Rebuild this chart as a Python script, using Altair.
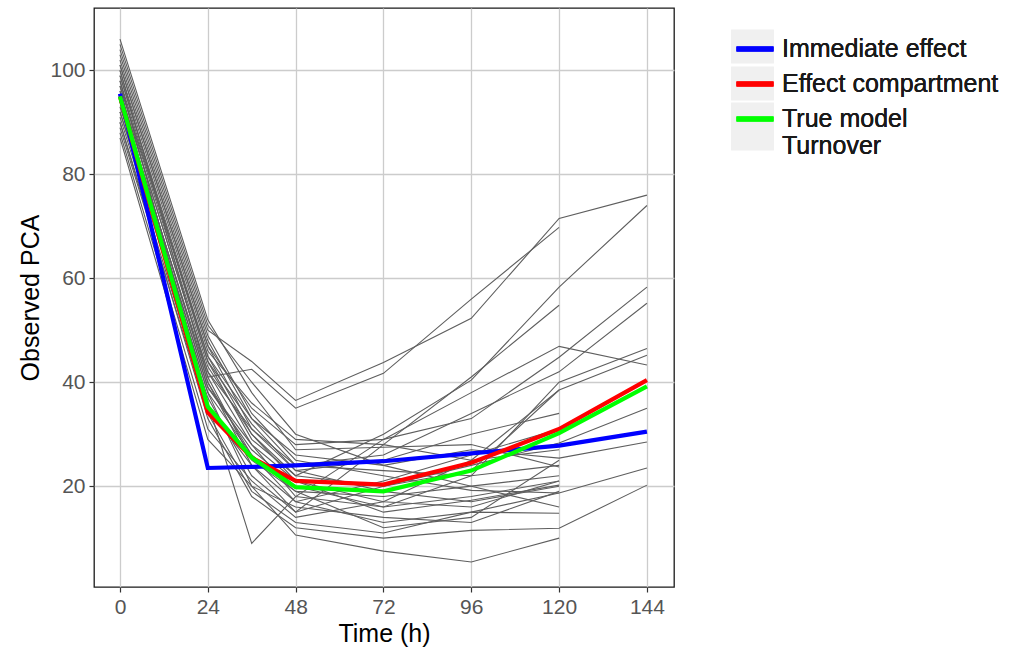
import altair as alt
import pandas as pd

times = [0, 24, 36, 48, 72, 96, 120, 144]

subjects = [
    [104, 50, 44, 36.5, 43.8, 52.3, 71.5, 76],
    [100, 41, 42.5, 35, 41.7, 56, 69.8, None],
    [97, 45, 30, 22, 30, 40.4, 58.3, 74],
    [98, 36, 9, 18, 29, 38, 46.9, 43.3],
    [92, 38, 20, 10.6, 7.5, 5.4, 10, None],
    [90, 33, 18, 12, 10, 11.5, 11.9, 20.2],
    [95, 40, 24, 17, 13, 15, 18.7, 23.5],
    [102, 48, 33, 26, 24, 27, 25.4, 28.5],
    [99, 44, 29, 22, 20, 24, 28.3, 35],
    [101, 47, 35, 28, 29, 33, 44.8, 58.3],
    [96, 42, 31, 24, 26, 34, 42, 55.2],
    [94, 39, 27, 20, 16, 22, 40, 46.5],
    [91, 37, 22, 15, 28, 41, 54.8, None],
    [88, 31, 21, 14, 17, 25, 38.5, 45.2],
    [106, 52, 38, 27, 27.5, 28, 23.7, None],
    [97, 43, 30, 21, 15, 17.3, 20.2, None],
    [89, 34, 19, 13, 11, 15, 14.8, None],
    [103, 49, 34, 25, 22, 19.2, 18.7, None],
    [95, 40, 26, 19, 18, 20, 22, None],
    [100, 46, 36, 29, 28, 25, 27, None],
    [87, 29, 20, 16, 14, 13, 19, None],
    [98, 44, 32, 23, 25, 30, 34, None],
    [92, 38, 26, 17, 21, 26, 31, None],
    [105, 51, 40, 30, 24, 20, 16, None],
    [94, 41, 25, 19, 12, 14, 25, None],
    [96, 42, 28, 21, 17, 16, 21, None],
    [90, 35, 24, 15, 20, 23, 38.5, None],
    [99, 45, 33, 24, 23, 22, 24, None],
    [93, 39, 28, 18, 16, 18, 21, None],
    [101, 47, 31, 23, 19, 17, 20, None],
]

immediate_effect = [95.5, 23.5, 23.7, 24.0, 24.8, 26.3, 27.8, 30.5]
effect_compartment = [95, 34.2, 25.5, 21, 20.3, 24.5, 31, 40.4]
true_turnover = [95, 35.3, 25.5, 19.8, 19, 23, 30.2, 39.2]

model_names = ["Immediate effect", "Effect compartment", "True model Turnover"]
model_colors = ["#0000ff", "#ff0000", "#00ff00"]

rows = []
for i, vals in enumerate(subjects):
    for t, v in zip(times, vals):
        if v is not None:
            rows.append({"subject": f"S{i+1}", "time": t, "value": v})
ind_df = pd.DataFrame(rows)

mrows = []
for name, vals in zip(model_names, [immediate_effect, effect_compartment, true_turnover]):
    for t, v in zip(times, vals):
        mrows.append({"model": name, "time": t, "value": v})
model_df = pd.DataFrame(mrows)

FONT = "Liberation Sans"
LABEL_EXPR = ("datum.label == 'True model Turnover' ? "
              "['True model', '\u2009\u2009Turnover'] : datum.label")
BLANK_EXPR = ("datum.label == 'True model Turnover' ? "
              "['\u00a0', '\u00a0'] : '\u00a0'")

x = alt.X("time:Q",
          scale=alt.Scale(domain=[-7.1, 151.4], nice=False, zero=False),
          axis=alt.Axis(values=[0, 24, 48, 72, 96, 120, 144], title="Time (h)"))
y = alt.Y("value:Q",
          scale=alt.Scale(domain=[0.6, 112], nice=False, zero=False),
          axis=alt.Axis(values=[20, 40, 60, 80, 100], title="Observed PCA"))

legend_common = dict(
    title=None, orient="none", legendX=640, legendY=20,
    symbolSize=1369, labelFontSize=25, labelFont=FONT,
    labelOffset=6, labelLimit=400, rowPadding=1,
)

# grey key backgrounds (legend drawn beneath the colour legend)
key_short = "M-1.16,-0.92L1.16,-0.92L1.16,0.92L-1.16,0.92Z"
key_tall = "M-1.16,-1.3L1.16,-1.3L1.16,1.3L-1.16,1.3Z"
keys = alt.Chart(model_df).transform_filter(alt.datum.time == 0).transform_calculate(
    key="datum.model"
).mark_point(filled=True, fill="#f0f0f0", size=0, opacity=1).encode(
    x=x, y=y,
    shape=alt.Shape(
        "key:N",
        scale=alt.Scale(domain=model_names, range=[key_short, key_short, key_tall]),
        legend=alt.Legend(
            symbolFillColor="#f0f0f0", symbolStrokeWidth=0,
            labelColor="rgba(0,0,0,0)", labelExpr=BLANK_EXPR, zindex=1,
            **legend_common,
        ),
    ),
)

grey = alt.Chart(ind_df).mark_line(color="#5e5e5e", strokeWidth=1.1).encode(
    x=x, y=y, detail="subject:N")

color = alt.Color(
    "model:N",
    scale=alt.Scale(domain=model_names, range=model_colors),
    legend=alt.Legend(
        symbolType="stroke", symbolStrokeWidth=5, labelColor="#1a1a1a",
        labelExpr=LABEL_EXPR, zindex=2, **legend_common,
    ),
)

layers = [keys, grey]
for name in model_names:
    layers.append(
        alt.Chart(model_df).transform_filter(alt.datum.model == name)
        .mark_line(strokeWidth=4.2)
        .encode(x=x, y=y, color=color)
    )

chart = alt.layer(*layers).resolve_legend(shape="independent", color="independent").properties(
    width=580, height=579,
    padding={"left": 18, "top": 8, "right": 5, "bottom": 5},
    background="white",
).configure_view(
    stroke="#1a1a1a", strokeWidth=1.3
).configure_axis(
    grid=True, gridColor="#cccccc", gridWidth=1.3,
    domain=False, tickColor="#333333", tickSize=5, tickWidth=1.2,
    labelFont=FONT, labelFontSize=21, labelColor="#555555", labelPadding=4,
    titleFont=FONT, titleFontSize=25, titleFontWeight="normal", titleColor="#000000",
).configure_axisY(titlePadding=6).configure_axisX(titlePadding=4)

chart.save("out.html", embed_options={"renderer": "svg", "actions": False})
